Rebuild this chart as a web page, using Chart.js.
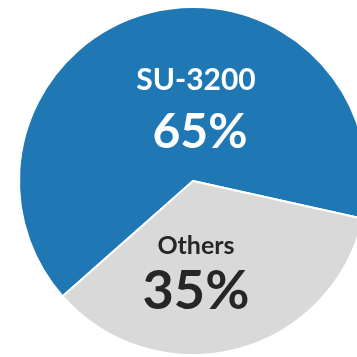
<!DOCTYPE html>
<html>
<head>
<meta charset="utf-8">
<script src="https://cdn.jsdelivr.net/npm/chart.js@4"></script>
<style>
  html, body { margin: 0; padding: 0; background: #fff; overflow: hidden; }
  body { width: 357px; height: 357px; position: relative; }
  #wrap { position: absolute; left: -7px; top: -19px; width: 400px; height: 400px; }
</style>
</head>
<body>
<div id="wrap"><canvas id="shareChart"></canvas></div>
<script>
const labels = ['SU-3200', 'Others'];
const shares = [65, 35];
const colors = ['#1f77b4', '#d9d9d9'];
const textColors = ['#ffffff', '#262626'];

// name + percentage drawn inside each slice
const sliceLabels = {
    id: 'sliceLabels',
    afterDatasetsDraw(chart) {
        const c = chart.ctx;
        const arcs = chart.getDatasetMeta(0).data;
        c.save();
        c.textAlign = 'center';
        c.textBaseline = 'middle';
        arcs.forEach(function (arc, i) {
            const R = arc.outerRadius;
            const dir = i === 0 ? -1 : 1;
            const nameY = arc.y + dir * (i === 0 ? 0.58 : 0.375) * R;
            const pctY = arc.y + dir * (i === 0 ? 0.28 : 0.635) * R;
            c.fillStyle = textColors[i];
            c.font = 'bold ' + (i === 0 ? 30 : 25) + 'px Lato';
            c.fillText(labels[i], arc.x + 3, nameY);
            c.font = 'bold ' + (i === 0 ? 48 : 54) + 'px Lato';
            c.fillText(shares[i] + '%', arc.x + (i === 0 ? 7 : 3), pctY);
        });
        c.restore();
    }
};

new Chart(document.getElementById('shareChart'), {
    type: 'pie',
    data: {
        labels: labels,
        datasets: [{
            data: shares,
            backgroundColor: colors,
            borderColor: '#ffffff',
            borderWidth: 2
        }]
    },
    options: {
        responsive: true,
        maintainAspectRatio: false,
        animation: false,
        rotation: 228.5,
        layout: { padding: 25 },
        plugins: {
            legend: { display: false },
            tooltip: { enabled: false }
        }
    },
    plugins: [sliceLabels]
});
</script>
</body>
</html>
